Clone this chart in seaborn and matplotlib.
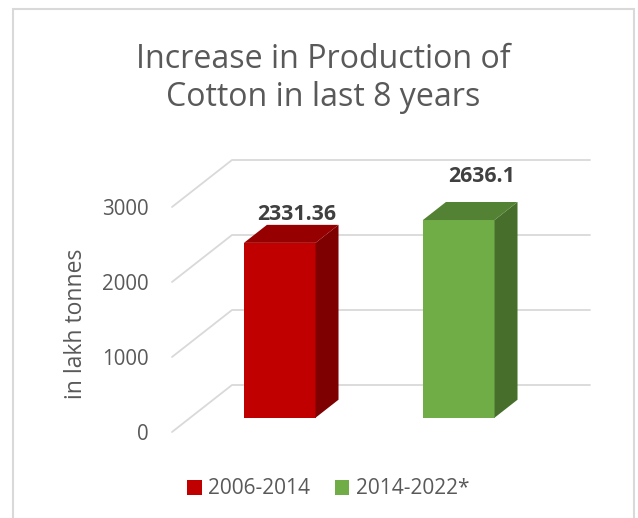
import matplotlib
matplotlib.use("Agg")
import matplotlib.pyplot as plt
import seaborn as sns
import pandas as pd
from matplotlib.patches import Polygon, Patch, Rectangle
from matplotlib.transforms import Affine2D

# ---- data ----
periods = ["2006-2014", "2014-2022*"]
production = [2331.36, 2636.1]
value_labels = ["2331.36", "2636.1"]
yticks = [0, 1000, 2000, 3000]
title = "Increase in Production of\nCotton in last 8 years"
ylabel = "in lakh tonnes"

# ---- style ----
front_colors = ["#C00000", "#70AD47"]
top_colors = ["#960000", "#548235"]
side_colors = ["#7F0000", "#476F2B"]
grid_color = "#D9D9D9"
text_gray = "#595959"
label_gray = "#404040"

sns.set_theme(style="white")
plt.rcParams["font.family"] = ["Open Sans", "DejaVu Sans"]

W, H = 638, 518
fig = plt.figure(figsize=(W / 100, H / 100), dpi=100)
ax_left, ax_right, ax_top, ax_bot = 172, 530, 207, 432
ax = fig.add_axes([ax_left / W, 1 - ax_bot / H, (ax_right - ax_left) / W, (ax_bot - ax_top) / H])

df = pd.DataFrame({"period": periods, "production": production})
sns.barplot(data=df, x="period", y="production", hue="period",
            palette=front_colors, width=0.4, ax=ax, legend=False,
            saturation=1, zorder=3)

ax.set_xlim(-0.5, 1.5)
ax.set_ylim(0, 3000)

# depth vector of the pseudo-3D box (in data units)
px_per_x = (ax_right - ax_left) / 2.0
px_per_y = (ax_bot - ax_top) / 3000.0
Dx, Dy = 60 / px_per_x, 47 / px_per_y
f0, f1 = 0.304, 0.687

# back wall gridlines and side diagonals
for v in yticks:
    ax.plot([-0.5, -0.5 + Dx, 1.5 + Dx], [v, v + Dy, v + Dy],
            color=grid_color, lw=1.3, clip_on=False, zorder=1)

label_offsets = [(3.6, 0), (8, 11)]
for i, p in enumerate(ax.patches):
    x0 = p.get_x()
    x1 = x0 + p.get_width()
    h = p.get_height()
    p.set_transform(Affine2D().translate(f0 * Dx, f0 * Dy) + ax.transData)
    p.set_clip_on(False)
    p.set_edgecolor("none")
    side = [(x1 + f0 * Dx, f0 * Dy), (x1 + f1 * Dx, f1 * Dy),
            (x1 + f1 * Dx, h + f1 * Dy), (x1 + f0 * Dx, h + f0 * Dy)]
    top = [(x0 + f0 * Dx, h + f0 * Dy), (x1 + f0 * Dx, h + f0 * Dy),
           (x1 + f1 * Dx, h + f1 * Dy), (x0 + f1 * Dx, h + f1 * Dy)]
    ax.add_patch(Polygon(side, closed=True, facecolor=side_colors[i],
                         edgecolor="none", clip_on=False, zorder=3))
    ax.add_patch(Polygon(top, closed=True, facecolor=top_colors[i],
                         edgecolor="none", clip_on=False, zorder=3))
    cx = (x0 + x1) / 2 + 0.5 * (f0 + f1) * Dx
    cy = h + f1 * Dy
    ax.annotate(value_labels[i], (cx, cy), xytext=label_offsets[i],
                textcoords="offset points", ha="center", va="bottom",
                fontsize=15.3, fontweight="bold", color=label_gray,
                annotation_clip=False, zorder=5)

for s in ax.spines.values():
    s.set_visible(False)
ax.set_xticks([])
ax.set_yticks(yticks)
ax.set_yticklabels([str(t) for t in yticks])
ax.tick_params(axis="y", length=0, pad=17, labelsize=14.8, labelcolor=text_gray)
ax.set_xlabel("")
ax.set_ylabel(ylabel, fontsize=16.5, color=text_gray)
ax.yaxis.label.set_va("center")
ax.yaxis.set_label_coords((76 - ax_left) / (ax_right - ax_left), 0.48)
ax.set_facecolor("none")

fig.text(323 / W, 1 - 43 / H, title, ha="center", va="top",
         fontsize=23.1, color=text_gray, linespacing=1.22)

handles = [Patch(facecolor=c, edgecolor="none") for c in front_colors]
leg = fig.legend(handles, periods, loc="center", bbox_to_anchor=(328 / W, 1 - 489 / H),
                 ncol=2, frameon=False, fontsize=15, handlelength=0.7,
                 handleheight=0.7, handletextpad=0.3, columnspacing=1.2)
for t in leg.get_texts():
    t.set_color(text_gray)

fig.patches.append(Rectangle((13 / W, -0.1), 621 / W, 1.1 - 9 / H,
                             transform=fig.transFigure, fill=False,
                             edgecolor=grid_color, lw=1.5))

fig.savefig("out.png", dpi=100)
